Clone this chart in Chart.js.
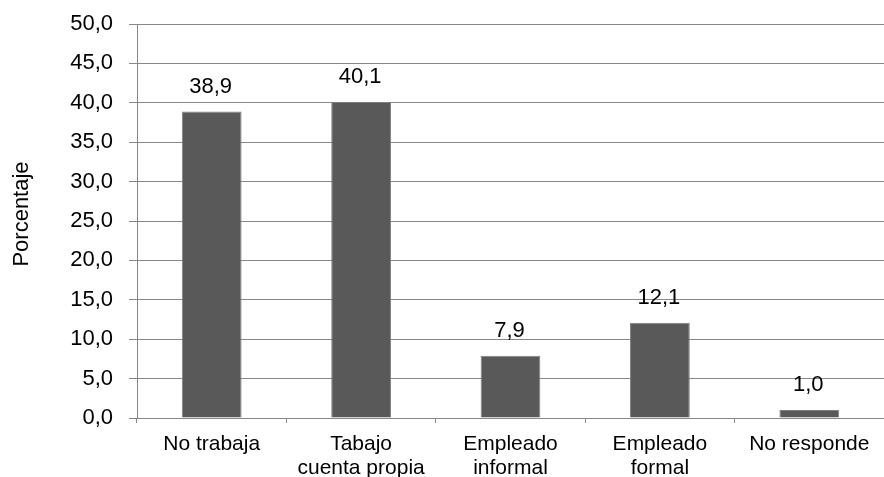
<!DOCTYPE html>
<html>
<head>
<meta charset="utf-8">
<script src="https://cdn.jsdelivr.net/npm/chart.js@4/dist/chart.umd.min.js"></script>
<style>
  html, body { margin: 0; padding: 0; background: #fff; }
  #wrap { width: 884px; height: 477px; position: relative; }
</style>
</head>
<body>
<div id="wrap"><canvas id="chart"></canvas></div>
<script>
// chart data
const categories = [
    'No trabaja',
    ['Tabajo', 'cuenta propia'],
    ['Empleado', 'informal'],
    ['Empleado', 'formal'],
    'No responde'
];
const percentages = [38.9, 40.1, 7.9, 12.1, 1.0];
const yTicks = [0, 5, 10, 15, 20, 25, 30, 35, 40, 45, 50];
const yTitle = 'Porcentaje';

const FONT = '"Liberation Sans", Arial, sans-serif';
const fmt = v => v.toFixed(1).replace('.', ',');

// value labels above the bars + the rotated axis title
const extras = {
    id: 'extras',
    afterDatasetsDraw(chart) {
        const ctx = chart.ctx;
        const meta = chart.getDatasetMeta(0);
        ctx.save();
        ctx.font = '22px ' + FONT;
        ctx.fillStyle = '#000';
        ctx.textAlign = 'center';
        ctx.textBaseline = 'middle';
        meta.data.forEach((bar, i) => {
            ctx.fillText(fmt(percentages[i]), bar.x - 1, bar.y - 25);
        });
        // y title, a bit above the middle of the plot like the original
        const area = chart.chartArea;
        ctx.translate(22, (area.top + area.bottom) / 2 - 7);
        ctx.rotate(-Math.PI / 2);
        ctx.fillText(yTitle, 0, 0);
        ctx.restore();
    }
};

new Chart(document.getElementById('chart').getContext('2d'), {
    type: 'bar',
    data: {
        labels: categories,
        datasets: [{
            data: percentages,
            backgroundColor: '#595959',
            borderColor: '#808080',
            borderWidth: 1,
            categoryPercentage: 1,
            barPercentage: 0.4
        }]
    },
    options: {
        responsive: true,
        maintainAspectRatio: false,
        animation: false,
        layout: { padding: { top: 24, right: 0, bottom: 0, left: 0 } },
        plugins: {
            legend: { display: false },
            tooltip: { enabled: false }
        },
        scales: {
            x: {
                afterFit: s => {
                    s.height = 59;
                    s.paddingLeft = 0;
                    s.paddingRight = 0;
                },
                grid: {
                    offset: true,
                    drawOnChartArea: false,
                    tickLength: 5,
                    color: '#888'
                },
                border: { color: '#888' },
                ticks: {
                    color: '#000',
                    padding: 9,
                    maxRotation: 0,
                    autoSkip: false,
                    font: { family: FONT, size: 21, lineHeight: 24 / 21 }
                }
            },
            y: {
                min: 0,
                max: 50,
                afterFit: s => {
                    s.width = 137;
                    s.paddingTop = 0;
                    s.paddingBottom = 0;
                },
                afterBuildTicks: s => { s.ticks = yTicks.map(v => ({ value: v })); },
                grid: { color: '#888', tickLength: 8 },
                border: { color: '#888' },
                ticks: {
                    color: '#000',
                    padding: 16,
                    callback: v => fmt(v),
                    font: { family: FONT, size: 22 }
                }
            }
        }
    },
    plugins: [extras]
});
</script>
</body>
</html>
